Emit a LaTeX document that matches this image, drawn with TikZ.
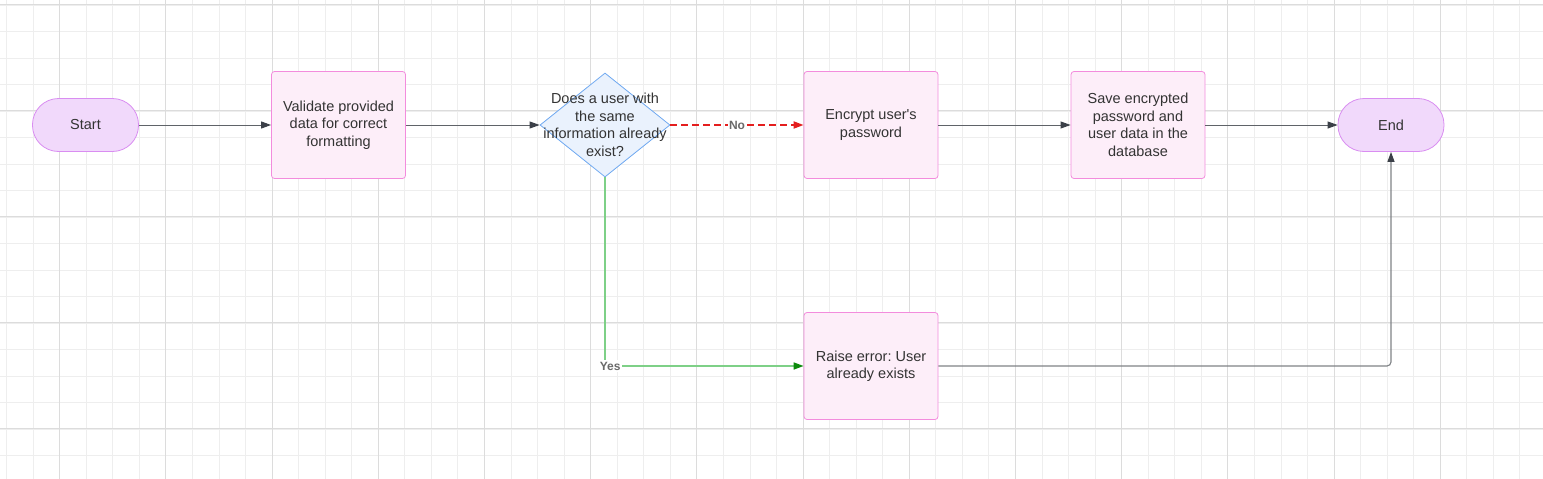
\documentclass[tikz,border=0pt]{standalone}
\usepackage{fontspec}
\setmainfont{Liberation Sans}[Ligatures=TeXOff]
\usetikzlibrary{shapes.geometric,arrows.meta}

\definecolor{termfill}{HTML}{F1D9FB}
\definecolor{termline}{HTML}{D98DF1}
\definecolor{procfill}{HTML}{FDEEF9}
\definecolor{procline}{HTML}{F38CDD}
\definecolor{decfill}{HTML}{EAF2FD}
\definecolor{decline}{HTML}{70A9F1}
\definecolor{txt}{HTML}{333333}
\definecolor{etqgris}{HTML}{6A6A6A}
\definecolor{lineagris}{HTML}{5F6368}
\definecolor{puntagris}{HTML}{3B4048}
\definecolor{linearoja}{HTML}{E41E1E}
\definecolor{lineaverde}{HTML}{7ED087}
\definecolor{puntaverde}{HTML}{0B8A0B}
\definecolor{gridmenor}{HTML}{EEEEEE}
\definecolor{gridmayor}{HTML}{DCDCDC}

\begin{document}
\frenchspacing
\begin{tikzpicture}[x=1pt, y=-1pt, line width=0.8pt,
  texto/.style={text=txt, align=center, font=\fontsize{14.5}{17.5}\selectfont},
  terminal/.style={texto, rectangle, rounded corners=26pt, draw=termline, fill=termfill, minimum width=106pt, minimum height=53pt},
  proceso/.style={texto, rectangle, rounded corners=3pt, draw=procline, fill=procfill, minimum width=134pt, minimum height=107pt},
  decision/.style={diamond, draw=decline, fill=decfill, minimum width=130pt, minimum height=104pt, inner sep=0pt},
  etiqueta/.style={fill=white, text=etqgris, font=\fontsize{12}{14}\selectfont\bfseries, inner sep=1.5pt},
  gris/.style={draw=lineagris, line width=1pt, -{Triangle[length=10pt, width=7pt, color=puntagris]}},
  rojo/.style={draw=linearoja, line width=1.8pt, dash pattern=on 7pt off 4pt, -{Triangle[length=10pt, width=7pt, color=linearoja]}},
  verde/.style={draw=lineaverde, line width=1.6pt, -{Triangle[length=10pt, width=7pt, color=puntaverde]}},
  grisclaro/.style={draw=lineagris!80, line width=1.1pt, -{Triangle[length=10pt, width=7pt, color=puntagris]}}]
\useasboundingbox (0,0) rectangle (1543,479);
% Cuadricula
\foreach \i in {0,...,57} \draw [gridmenor, line width=0.6pt] (6.4+26.55*\i,0) -- (6.4+26.55*\i,479);
\foreach \j in {0,...,17} \draw [gridmenor, line width=0.6pt] (0,4.8+26.5*\j) -- (1543,4.8+26.5*\j);
\foreach \i in {0,...,13} \draw [gridmayor, line width=0.7pt] (59.5+106.2*\i,0) -- (59.5+106.2*\i,479);
\foreach \j in {0,...,4} \draw [gridmayor, line width=0.7pt] (0,4.8+106*\j) -- (1543,4.8+106*\j);
% Nodos
\node [terminal] (S) at (85.5,125) {Start};
\node [proceso] (V) at (338.5,125) {Validate provided\\data for correct\\formatting};
\node [decision, label={[texto]center:Does a user with\\the same\\information already\\exist?}] (Q) at (605,125) {};
\node [proceso] (C) at (871,125) {Encrypt user's\\password};
\node [proceso] (G) at (1138,125) {Save encrypted\\password and\\user data in the\\database};
\node [terminal] (E) at (1391,125) {End};
\node [proceso] (R) at (871,366) {Raise error: User\\already exists};
% Aristas
\path (S) edge [gris] (V);
\path (V) edge [gris] (Q);
\path (Q) edge [rojo] node [etiqueta] {No} (C);
\path (C) edge [gris] (G);
\path (G) edge [gris] (E);
\draw [verde] (Q.south) |- node [etiqueta, pos=0.513] {Yes} (R.west);
\draw [grisclaro, rounded corners=4pt] (R.east) -| (E.south);
\end{tikzpicture}
\end{document}
